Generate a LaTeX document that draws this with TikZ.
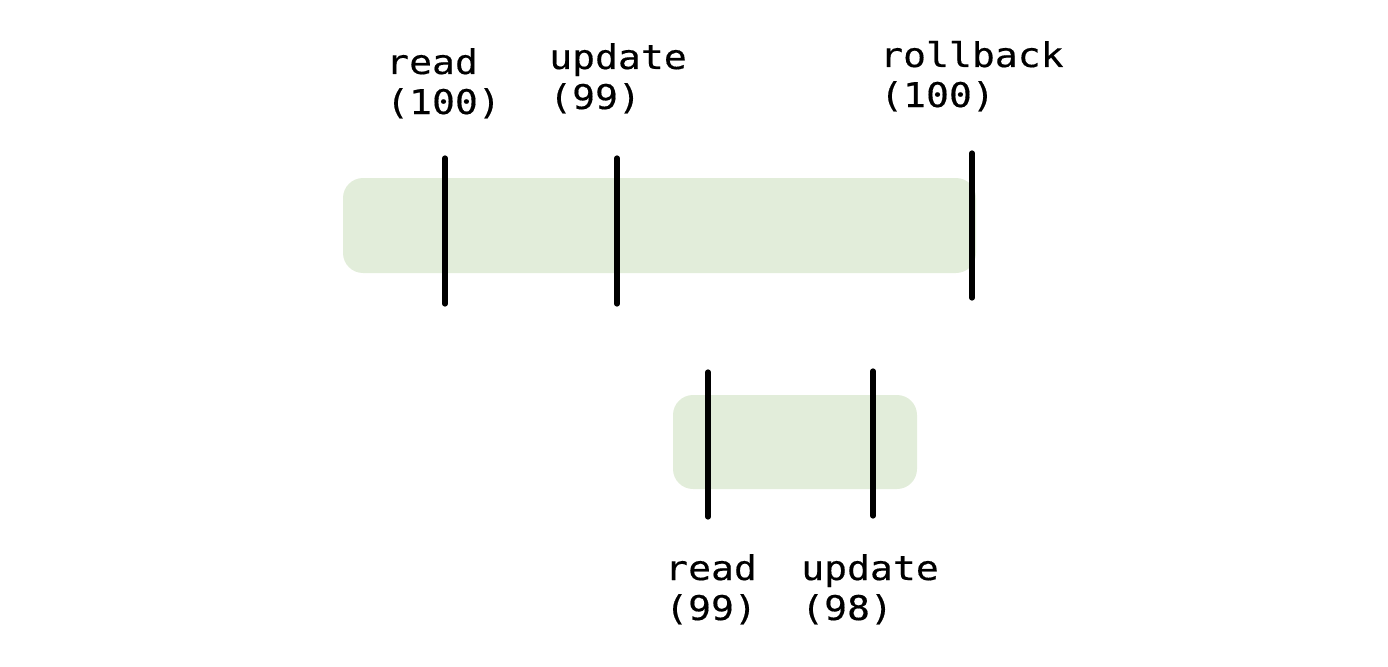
\documentclass[tikz,border=0pt]{standalone}
\usepackage{fontspec}
\newfontfamily\monofnt[FakeStretch=1.12,FakeBold=0.4]{DejaVu Sans Mono}
\definecolor{barfill}{RGB}{226,237,218}
\begin{document}
\begin{tikzpicture}[x=1pt,y=-1pt,
  bar/.style={fill=barfill,draw=none,rounded corners=20pt,inner sep=0pt},
  tick/.style={line width=5.2pt,line cap=round,black},
  lbl/.style={anchor=base west,inner sep=0pt,align=left,
    font=\monofnt\fontsize{34}{40}\selectfont}]
\useasboundingbox (0,0) rectangle (1388,666);
% transaction bars
\node[bar,minimum width=633pt,minimum height=95pt] (txa) at (659.5,225.5) {};
\node[bar,minimum width=244pt,minimum height=94pt] (txb) at (795,442) {};
% ticks
\coordinate (a1t) at (445,158); \coordinate (a1b) at (445,304);
\coordinate (a2t) at (617,158); \coordinate (a2b) at (617,304);
\coordinate (a3t) at (972,153); \coordinate (a3b) at (972,298);
\coordinate (b1t) at (708,372); \coordinate (b1b) at (708,517);
\coordinate (b2t) at (873,371); \coordinate (b2b) at (873,516);
\draw[tick] (a1t) -- (a1b);
\draw[tick] (a2t) -- (a2b);
\draw[tick] (a3t) -- (a3b);
\draw[tick] (b1t) -- (b1b);
\draw[tick] (b2t) -- (b2b);
% labels (anchor = baseline of last line)
\node[lbl] (la1) at (386,114) {read\\(100)};
\node[lbl] (la2) at (549,109) {update\\(99)};
\node[lbl] (la3) at (880,107) {rollback\\(100)};
\node[lbl] (lb1) at (665,620) {read\\(99)};
\node[lbl] (lb2) at (801,620) {update\\(98)};
\end{tikzpicture}
\end{document}
